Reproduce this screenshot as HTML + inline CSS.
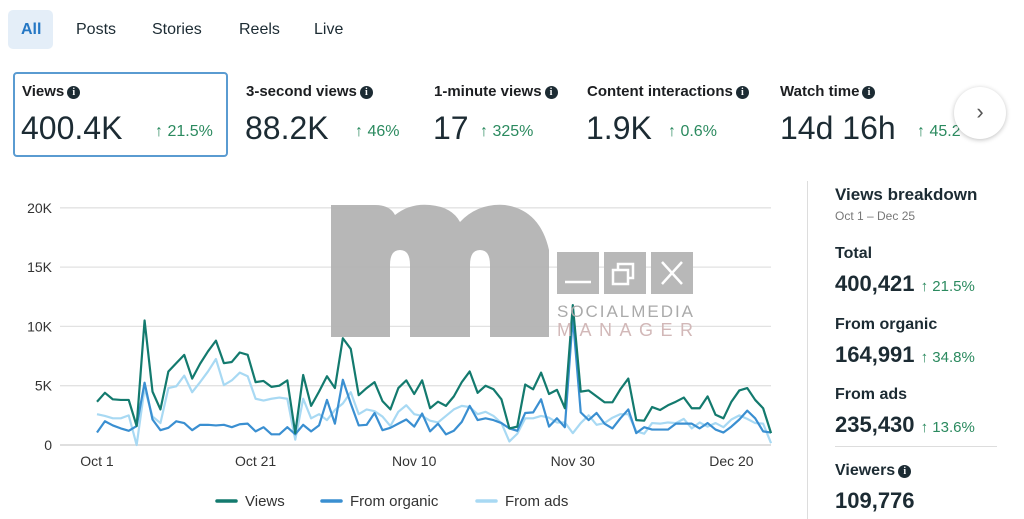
<!DOCTYPE html>
<html><head><meta charset="utf-8"><style>
body{margin:0;width:1024px;height:519px;overflow:hidden;background:#fff;font-family:"Liberation Sans",sans-serif;color:#1c1e21;position:relative}
.a{position:absolute;white-space:nowrap}
.tab{font-size:16px;color:#1c2b33;top:21px}
.lbl{font-size:15px;font-weight:bold;top:83px}
.big{font-size:32px;top:110px;color:#1c2b33}
.pct{font-size:16px;color:#2b8a5f;top:123px}
.info{display:inline-block;width:13px;height:13px;border-radius:50%;background:#1c2b33;color:#fff;font-size:10px;line-height:13px;text-align:center;vertical-align:1px;margin-left:3px;font-family:"Liberation Serif",serif;font-weight:bold}
.rl{font-size:16px;font-weight:bold;left:835px;color:#1c2b33}
.rv{font-size:22px;font-weight:bold;left:835px;color:#1c2b33}
.rp{font-size:15px;color:#2b8a5f;font-weight:normal}
</style></head><body>
<div class="a" style="left:8px;top:10px;width:45px;height:39px;background:#e4eef8;border-radius:5px"></div>
<div class="a tab" style="left:21px;font-weight:bold;color:#2477c4">All</div>
<div class="a tab" style="left:76px">Posts</div>
<div class="a tab" style="left:152px">Stories</div>
<div class="a tab" style="left:239px">Reels</div>
<div class="a tab" style="left:314px">Live</div>

<div class="a" style="left:13px;top:72px;width:211px;height:81px;border:2px solid #5a9bd1;border-radius:4px"></div>
<div class="a lbl" style="left:22px">Views<span class="info">i</span></div>
<div class="a big" style="left:21px">400.4K</div>
<div class="a pct" style="left:155px">↑ 21.5%</div>
<div class="a lbl" style="left:246px">3-second views<span class="info">i</span></div>
<div class="a big" style="left:245px">88.2K</div>
<div class="a pct" style="left:355px">↑ 46%</div>
<div class="a lbl" style="left:434px">1-minute views<span class="info">i</span></div>
<div class="a big" style="left:433px">17</div>
<div class="a pct" style="left:480px">↑ 325%</div>
<div class="a lbl" style="left:587px">Content interactions<span class="info">i</span></div>
<div class="a big" style="left:586px">1.9K</div>
<div class="a pct" style="left:668px">↑ 0.6%</div>
<div class="a lbl" style="left:780px">Watch time<span class="info">i</span></div>
<div class="a big" style="left:780px">14d 16h</div>
<div class="a pct" style="left:917px">↑ 45.2</div>
<div class="a" style="left:954px;top:87px;width:52px;height:52px;border-radius:50%;background:#fff;box-shadow:0 1px 5px rgba(0,0,0,.25);text-align:center;line-height:50px;font-size:22px;color:#555">›</div>

<svg class="a" style="left:0;top:180px" width="800" height="339" id="chart"></svg>

<div class="a" style="left:807px;top:181px;width:1px;height:338px;background:#ddd"></div>
<div class="a" style="left:835px;top:185px;font-size:17px;font-weight:bold;color:#1c2b33">Views breakdown</div>
<div class="a" style="left:835px;top:209px;font-size:12px;color:#777">Oct 1 – Dec 25</div>
<div class="a rl" style="top:245px">Total</div>
<div class="a rv" style="top:271px">400,421 <span class="rp">↑ 21.5%</span></div>
<div class="a rl" style="top:316px">From organic</div>
<div class="a rv" style="top:342px">164,991 <span class="rp">↑ 34.8%</span></div>
<div class="a rl" style="top:386px">From ads</div>
<div class="a rv" style="top:412px">235,430 <span class="rp">↑ 13.6%</span></div>
<div class="a" style="left:835px;top:446px;width:162px;height:1px;background:#ddd"></div>
<div class="a rl" style="top:462px">Viewers<span class="info">i</span></div>
<div class="a rv" style="top:488px">109,776</div>

<svg class="a" style="left:0;top:0" width="1024" height="519">
<path d="M331,205 H375 Q390,205 395,215 Q410,203 430,205 Q452,207 460,222 Q478,203 505,205 Q540,210 549,250 L549,337 H490 V265 Q490,250 480,250 Q470,250 470,265 V337 H410 V265 Q410,250 400,250 Q390,250 390,265 V337 H331 Z" fill="#b5b5b5" opacity="0.97"/>
<rect x="557" y="252" width="42" height="42" fill="#b8b8b8"/><rect x="604" y="252" width="42" height="42" fill="#b8b8b8"/><rect x="651" y="252" width="42" height="42" fill="#b8b8b8"/>
<line x1="565" y1="282" x2="591" y2="282" stroke="#fff" stroke-width="2.5"/>
<rect x="613" y="270" width="15" height="14" fill="none" stroke="#fff" stroke-width="2.5"/><path d="M618,270 V264 H633 V278 H628" fill="none" stroke="#fff" stroke-width="2.5"/>
<path d="M662,262 L682,284 M682,262 L662,284" stroke="#fff" stroke-width="2.5"/>
<text x="557" y="317" font-size="17" fill="#aaa" font-family="Liberation Sans" textLength="136">SOCIALMEDIA</text>
<text x="557" y="336" font-size="18" fill="#d2b8b8" font-family="Liberation Sans" textLength="136">MANAGER</text>
</svg>

<script>
const xLabels=["Oct 1","Oct 21","Nov 10","Nov 30","Dec 20"];
const xLabelDays=[0,20,40,60,80];
const yTicks=[0,5000,10000,15000,20000];
const yTickLabels=["0","5K","10K","15K","20K"];
const views=[3.65,4.4,3.85,3.8,3.8,1.6,10.5,4.5,3.0,6.2,6.9,7.6,5.6,6.85,7.9,8.8,6.9,7.0,7.8,7.6,5.3,5.4,4.9,5.0,5.45,1.0,5.9,3.3,4.5,5.8,4.8,9.0,8.1,4.2,4.8,5.3,3.7,3.0,4.8,5.45,4.3,5.45,3.1,3.65,3.3,4.1,5.3,6.2,4.4,5.0,4.7,3.85,1.4,1.55,5.1,4.7,6.1,4.3,4.65,3.1,11.8,4.5,4.6,4.1,3.6,3.6,4.7,5.6,2.1,2.05,3.2,2.95,3.35,3.65,4.0,3.1,3.1,4.1,2.55,2.25,3.65,4.6,4.8,3.8,3.1,1.0];
const organic=[1.05,2.0,1.65,1.4,1.2,1.6,5.25,2.15,1.25,1.45,2.0,1.85,1.25,1.7,1.7,1.65,1.7,1.5,1.75,1.8,1.15,1.5,0.9,0.9,1.5,0.9,1.7,1.15,1.65,3.8,1.8,5.5,3.5,1.65,1.7,2.7,1.25,1.45,1.8,2.15,1.55,2.65,1.15,1.8,0.9,1.2,1.95,3.3,2.1,2.25,2.1,1.85,1.4,1.2,2.7,2.75,3.85,1.55,2.25,1.5,10.8,2.75,2.1,2.7,1.8,1.4,2.25,3.0,1.0,1.5,1.3,1.3,1.3,1.8,1.8,1.8,1.4,1.85,1.3,1.05,1.55,2.15,2.9,2.25,1.15,1.05];
const ads=[2.6,2.45,2.25,2.25,2.5,0.0,4.8,2.4,1.85,4.8,4.95,5.85,4.45,5.3,6.2,7.25,5.05,5.45,6.1,5.8,3.9,3.75,3.9,4.0,3.9,0.45,3.9,2.25,2.6,2.1,2.95,3.5,4.45,2.6,3.0,2.85,2.4,1.6,2.8,3.35,2.6,2.45,2.05,1.9,2.45,3.0,3.3,3.2,2.6,2.8,2.45,1.85,0.3,0.95,2.25,2.25,2.45,2.3,1.9,1.9,1.0,1.85,2.5,1.7,1.85,2.3,2.6,2.6,1.15,0.95,1.85,1.8,1.9,1.85,2.2,1.4,1.9,1.55,1.85,1.5,2.15,2.5,2.2,1.85,1.8,0.15];
const svg=document.getElementById('chart');
const NS='http://www.w3.org/2000/svg';
const X=d=>97+d*7.93;
const Y=v=>265-v/20000*237.2;
function mk(t,a){const e=document.createElementNS(NS,t);for(const k in a)e.setAttribute(k,a[k]);svg.appendChild(e);return e;}
yTicks.forEach((t,i)=>{
 const g=mk('line',{x1:60,x2:771,y1:Y(t),y2:Y(t),stroke:i?'#e2e2e2':'#ccc','stroke-width':1.3});
 
 
 const l=mk('text',{x:52,y:Y(t)+5,'text-anchor':'end','font-size':14,fill:'#333'});
 l.textContent=yTickLabels[i];
 
 
});
xLabels.forEach((s,i)=>{
 const l=mk('text',{x:X(xLabelDays[i]),y:286,'text-anchor':'middle','font-size':14,fill:'#333'});
 l.textContent=s;
 
 
});
function line(arr,col,name){
 const p=mk('polyline',{points:arr.map((v,i)=>X(i)+','+Y(v*1000)).join(' '),fill:'none',stroke:col,'stroke-width':2.2,'stroke-linejoin':'round'});
 
 
}
line(ads,'#a8d9f3','ads-line');
line(organic,'#3a8fd1','organic-line');
line(views,'#137a6e','views-line');
[['Views','#137a6e',217],['From organic','#3a8fd1',322],['From ads','#a8d9f3',477]].forEach(([s,c,x])=>{
 const m=mk('line',{x1:x,x2:x+19,y1:321,y2:321,stroke:c,'stroke-width':3.5,'stroke-linecap':'round'});
 
 
 const t=mk('text',{x:x+28,y:326,'font-size':15,fill:'#333'});
 t.textContent=s;
 
 
});
</script>
</body></html>
